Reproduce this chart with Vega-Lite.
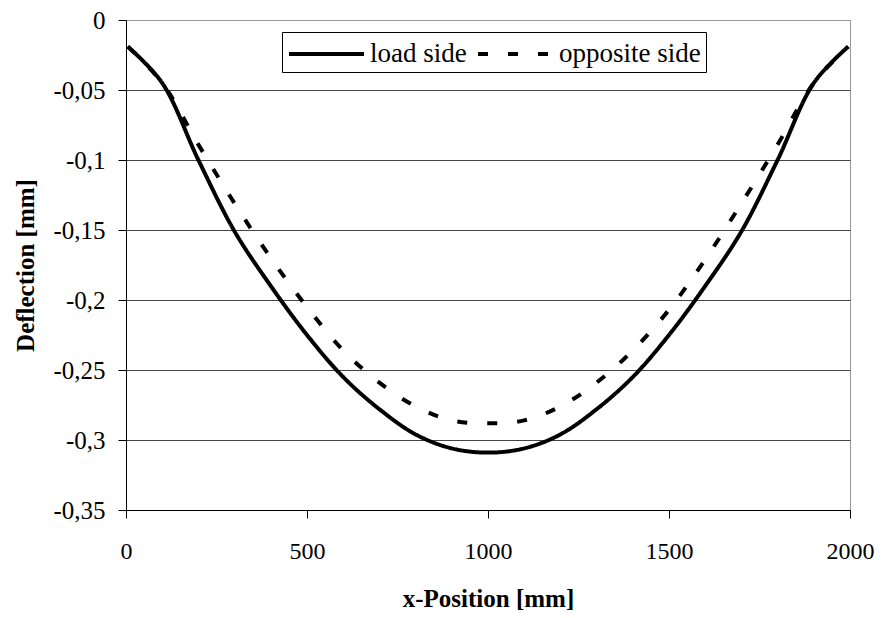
{
  "$schema": "https://vega.github.io/schema/vega-lite/v6.json",
  "width": 724,
  "height": 490,
  "autosize": {"type": "none"},
  "padding": {"left": 126, "top": 20, "right": 33, "bottom": 108},
  "background": "white",
  "config": {
    "view": {"stroke": "#999999", "strokeWidth": 1},
    "font": "Liberation Serif"
  },
  "data": {
    "values": [
      {"x": 5, "y": -0.019, "series": "load side"},
      {"x": 100, "y": -0.045, "series": "load side"},
      {"x": 200, "y": -0.100, "series": "load side"},
      {"x": 300, "y": -0.151, "series": "load side"},
      {"x": 400, "y": -0.190, "series": "load side"},
      {"x": 500, "y": -0.225, "series": "load side"},
      {"x": 600, "y": -0.255, "series": "load side"},
      {"x": 700, "y": -0.278, "series": "load side"},
      {"x": 800, "y": -0.296, "series": "load side"},
      {"x": 900, "y": -0.306, "series": "load side"},
      {"x": 1000, "y": -0.309, "series": "load side"},
      {"x": 1100, "y": -0.306, "series": "load side"},
      {"x": 1200, "y": -0.296, "series": "load side"},
      {"x": 1300, "y": -0.278, "series": "load side"},
      {"x": 1400, "y": -0.255, "series": "load side"},
      {"x": 1500, "y": -0.225, "series": "load side"},
      {"x": 1600, "y": -0.190, "series": "load side"},
      {"x": 1700, "y": -0.151, "series": "load side"},
      {"x": 1800, "y": -0.100, "series": "load side"},
      {"x": 1900, "y": -0.045, "series": "load side"},
      {"x": 1995, "y": -0.019, "series": "load side"},
      {"x": 5, "y": -0.019, "series": "opposite side"},
      {"x": 100, "y": -0.045, "series": "opposite side"},
      {"x": 200, "y": -0.089, "series": "opposite side"},
      {"x": 300, "y": -0.131, "series": "opposite side"},
      {"x": 400, "y": -0.170, "series": "opposite side"},
      {"x": 500, "y": -0.205, "series": "opposite side"},
      {"x": 600, "y": -0.236, "series": "opposite side"},
      {"x": 700, "y": -0.259, "series": "opposite side"},
      {"x": 800, "y": -0.276, "series": "opposite side"},
      {"x": 900, "y": -0.286, "series": "opposite side"},
      {"x": 1000, "y": -0.288, "series": "opposite side"},
      {"x": 1100, "y": -0.286, "series": "opposite side"},
      {"x": 1200, "y": -0.276, "series": "opposite side"},
      {"x": 1300, "y": -0.259, "series": "opposite side"},
      {"x": 1400, "y": -0.236, "series": "opposite side"},
      {"x": 1500, "y": -0.207, "series": "opposite side"},
      {"x": 1600, "y": -0.171, "series": "opposite side"},
      {"x": 1700, "y": -0.131, "series": "opposite side"},
      {"x": 1800, "y": -0.089, "series": "opposite side"},
      {"x": 1900, "y": -0.045, "series": "opposite side"},
      {"x": 1995, "y": -0.019, "series": "opposite side"}
    ]
  },
  "mark": {"type": "line", "strokeWidth": 4, "color": "black", "interpolate": "catmull-rom", "strokeCap": "butt"},
  "encoding": {
    "x": {
      "field": "x",
      "type": "quantitative",
      "scale": {"domain": [0, 2000], "nice": false},
      "axis": {
        "title": "x-Position [mm]",
        "values": [0, 500, 1000, 1500, 2000],
        "format": "d",
        "grid": false,
        "tickSize": 8,
        "tickColor": "black",
        "domainColor": "black",
        "labelFont": "Liberation Serif",
        "labelFontSize": 24,
        "labelColor": "black",
        "labelPadding": 21,
        "labelFlush": false,
        "titleFont": "Liberation Serif",
        "titleFontSize": 25,
        "titleFontWeight": "bold",
        "titleColor": "black",
        "titleBaseline": "alphabetic",
        "titleY": 96
      }
    },
    "y": {
      "field": "y",
      "type": "quantitative",
      "scale": {"domain": [-0.35, 0], "nice": false},
      "axis": {
        "title": "Deflection [mm]",
        "values": [0, -0.05, -0.1, -0.15, -0.2, -0.25, -0.3, -0.35],
        "labelExpr": "datum.value == 0 ? '0' : '-' + replace(format(-datum.value, '.2~f'), '.', ',')",
        "grid": true,
        "gridColor": {"condition": {"test": "datum.value == 0", "value": "#999999"}, "value": "#444444"},
        "gridWidth": 1,
        "tickSize": 8,
        "tickColor": "black",
        "domainColor": "black",
        "labelFont": "Liberation Serif",
        "labelFontSize": 25,
        "labelColor": "black",
        "labelPadding": 13,
        "titleFont": "Liberation Serif",
        "titleFontSize": 25,
        "titleFontWeight": "bold",
        "titleColor": "black",
        "titleAngle": 270,
        "titleBaseline": "alphabetic",
        "titleAlign": "center",
        "titleX": -93,
        "titleY": 245
      }
    },
    "strokeDash": {
      "field": "series",
      "type": "nominal",
      "scale": {"domain": ["load side", "opposite side"], "range": [[1, 0], [10, 20]]},
      "legend": {
        "orient": "none",
        "legendX": 156,
        "legendY": 12,
        "direction": "horizontal",
        "title": null,
        "strokeColor": "black",
        "fillColor": "white",
        "padding": 5,
        "symbolType": "M-1,0H4",
        "symbolSize": 900,
        "symbolStrokeWidth": 4,
        "symbolStrokeColor": "black",
        "labelFont": "Liberation Serif",
        "labelFontSize": 27,
        "labelColor": "black",
        "labelOffset": 49,
        "columnPadding": 3,
        "labelLimit": 300
      }
    }
  }
}
